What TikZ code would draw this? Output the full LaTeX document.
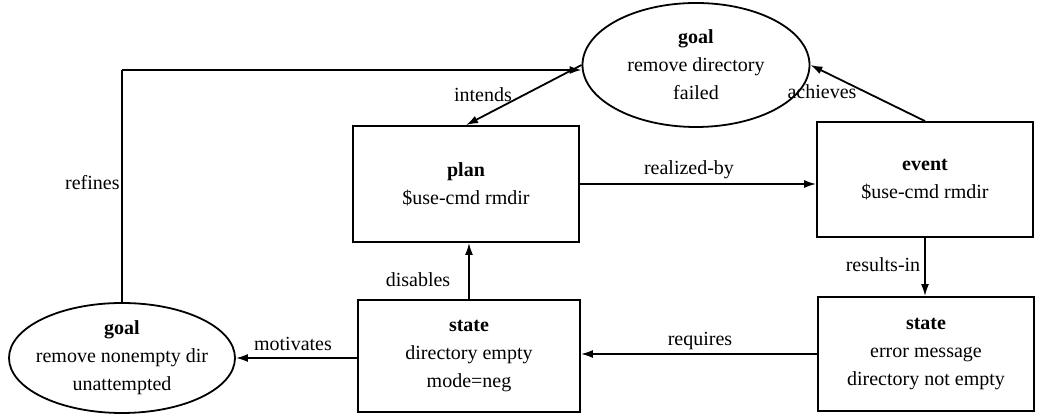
\documentclass[tikz,border=0pt]{standalone}
\usepackage{fontspec}
\setmainfont{Liberation Serif}
\usetikzlibrary{shapes.geometric,arrows.meta}
\begin{document}
\begin{tikzpicture}[x=0.5pt,y=-0.5pt,
  every node/.style={font=\fontsize{10}{14}\selectfont},
  framebox/.style={draw,line width=0.9pt,rectangle,align=center,inner sep=0pt},
  goalshape/.style={draw,line width=0.9pt,ellipse,align=center,inner xsep=-4pt,inner ysep=0pt},
  link/.style={line width=0.9pt,-{Latex[length=6pt,width=4pt]}},
  plain/.style={line width=0.9pt},
  rel/.style={inner sep=1pt}]
\useasboundingbox (0,0) rectangle (1039,415);

% concept nodes
\node[goalshape,minimum width=113.5pt,minimum height=62pt] (goalT) at (696,65)
  {\textbf{goal}\\remove directory\\failed};
\node[goalshape,minimum width=113pt,minimum height=55pt] (goalB) at (122,358)
  {\textbf{goal}\\remove nonempty dir\\unattempted};
\node[framebox,minimum width=113pt,minimum height=58pt] (plan) at (466,184)
  {\textbf{plan}\\\$use-cmd rmdir};
\node[framebox,minimum width=108pt,minimum height=57.5pt] (event) at (925,179.5)
  {\textbf{event}\\\$use-cmd rmdir};
\node[framebox,minimum width=111pt,minimum height=56pt] (stateM) at (469,356)
  {\textbf{state}\\directory empty\\mode=neg};
\node[framebox,minimum width=108pt,minimum height=57pt] (stateR) at (926,354)
  {\textbf{state}\\error message\\directory not empty};

% connectors
\coordinate (rc) at (goalB.north |- 0,70);
\draw[plain] (goalB.north) -- (rc);
\draw[link] (rc) -- (rc -| goalT.west);
\draw[link] (goalT.west) -- (plan.north);
\draw[link] (event.north) -- (goalT.east);
\draw[link] (plan.east) -- (plan.east -| event.west);
\draw[link] (stateM.north) -- (stateM.north |- plan.south);
\draw[link] (event.south) -- (event.south |- stateR.north);
\draw[link] (stateR.west) -- (stateR.west -| stateM.east);
\draw[link] (stateM.west |- goalB.east) -- (goalB.east);

% relation labels
\node[rel,anchor=east] (lrefines) at (122,183) {refines};
\node[rel] (lintends) at (483,95) {intends};
\node[rel] (lachieves) at (822,92) {achieves};
\node[rel] (lrealized) at (689,170) {realized-by};
\node[rel] (ldisables) at (418,280) {disables};
\node[rel] (lresults) at (883,265) {results-in};
\node[rel] (lrequires) at (700,341) {requires};
\node[rel] (lmotivates) at (293,344) {motivates};
\end{tikzpicture}
\end{document}
